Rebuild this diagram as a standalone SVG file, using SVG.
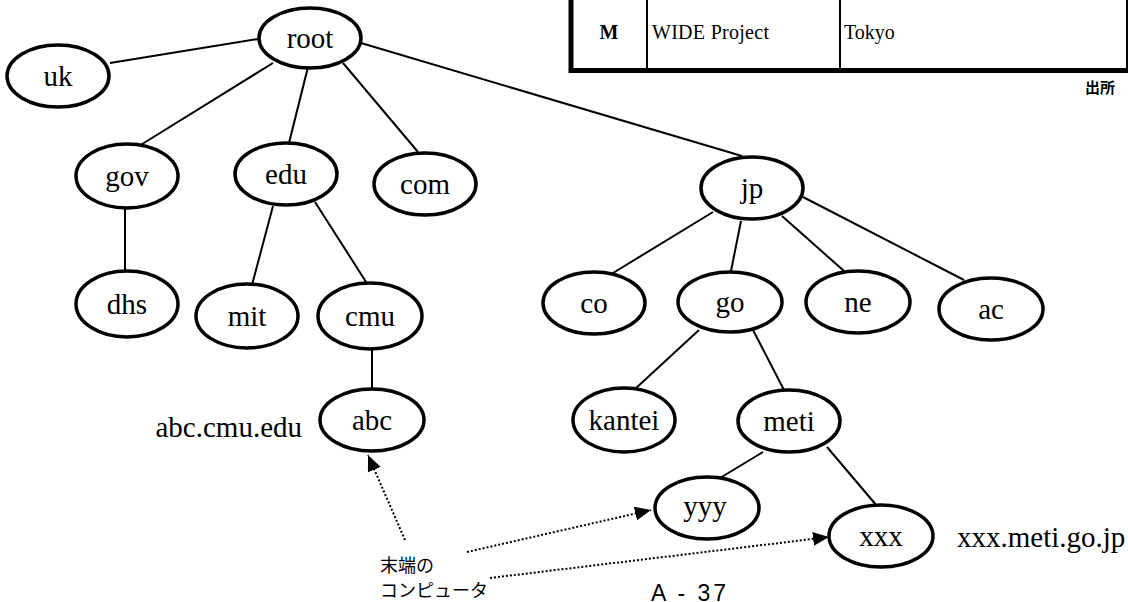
<svg xmlns="http://www.w3.org/2000/svg" width="1128" height="602" viewBox="0 0 1128 602">
  <style>
    .node ellipse { fill: #fff; stroke: #000; stroke-width: 3.5; }
    .node text, .lbl { font-family: "Liberation Serif", "Times New Roman", serif; font-size: 29px; fill: #000; }
    .node text { text-anchor: middle; }
    .edge { stroke: #000; stroke-width: 2; fill: none; }
    .dot { stroke: #000; stroke-width: 2; stroke-dasharray: 2 2; fill: none; }
    .cell { font-family: "Liberation Serif", "Times New Roman", serif; font-size: 20px; fill: #000; }
    .jp { font-family: "Noto Sans CJK JP", sans-serif; font-size: 18px; fill: #000; }
  </style>
  <defs>
    <marker id="arrow" markerUnits="userSpaceOnUse" markerWidth="16" markerHeight="14" refX="16" refY="7" orient="auto">
      <path d="M0,0 L16,7 L0,14 z" fill="#000"/>
    </marker>
  </defs>

  <rect width="1128" height="602" fill="#fff"/>

  <!-- table fragment, upper right -->
  <g id="table">
    <line x1="571" y1="0" x2="571" y2="73" stroke="#000" stroke-width="5"/>
    <line x1="647" y1="0" x2="647" y2="70" stroke="#000" stroke-width="2"/>
    <line x1="840" y1="0" x2="840" y2="70" stroke="#000" stroke-width="2"/>
    <line x1="1127" y1="0" x2="1127" y2="70" stroke="#000" stroke-width="2"/>
    <line x1="569" y1="70.5" x2="1128" y2="70.5" stroke="#000" stroke-width="5"/>
    <text class="cell" x="609" y="39" text-anchor="middle" font-weight="bold" font-size="21">M</text>
    <text class="cell" x="652" y="39" textLength="117">WIDE Project</text>
    <text class="cell" x="844" y="39">Tokyo</text>
    <text x="1085" y="93" font-family="Noto Sans CJK JP, sans-serif" font-size="15" font-weight="bold">出所</text>
  </g>

  <!-- tree connectors -->
  <g id="connectors">
    <line class="edge" x1="258" y1="39" x2="110" y2="63"/>
    <line class="edge" x1="273" y1="63" x2="139" y2="146"/>
    <line class="edge" x1="308" y1="67" x2="289" y2="143"/>
    <line class="edge" x1="343" y1="63" x2="418" y2="152"/>
    <line class="edge" x1="361" y1="43" x2="742" y2="156"/>
    <line class="edge" x1="125" y1="208" x2="125" y2="271"/>
    <line class="edge" x1="273" y1="206" x2="252" y2="285"/>
    <line class="edge" x1="315" y1="202" x2="368" y2="285"/>
    <line class="edge" x1="372" y1="350" x2="372" y2="388"/>
    <line class="edge" x1="713" y1="212" x2="613" y2="273"/>
    <line class="edge" x1="741" y1="221" x2="731" y2="271"/>
    <line class="edge" x1="782" y1="216" x2="844" y2="271"/>
    <line class="edge" x1="803" y1="197" x2="964" y2="280"/>
    <line class="edge" x1="699" y1="330" x2="635" y2="389"/>
    <line class="edge" x1="753" y1="330" x2="784" y2="390"/>
    <line class="edge" x1="763" y1="452" x2="720" y2="478"/>
    <line class="edge" x1="827" y1="447" x2="877" y2="506"/>
    <!-- dotted pointers from the caption -->
    <line class="dot" x1="405" y1="540" x2="368" y2="455" marker-end="url(#arrow)"/>
    <line class="dot" x1="467" y1="552" x2="651" y2="510" marker-end="url(#arrow)"/>
    <line class="dot" x1="490" y1="578" x2="829" y2="537" marker-end="url(#arrow)"/>
  </g>

  <g id="root" class="node"><ellipse cx="310" cy="38" rx="51" ry="30"/><text x="310" y="48">root</text></g>
  <g id="uk" class="node"><ellipse cx="58" cy="76" rx="51" ry="31"/><text x="58" y="86">uk</text></g>
  <g id="gov" class="node"><ellipse cx="127" cy="176" rx="51" ry="32"/><text x="127" y="186">gov</text></g>
  <g id="edu" class="node"><ellipse cx="286" cy="174" rx="51" ry="31"/><text x="286" y="184">edu</text></g>
  <g id="com" class="node"><ellipse cx="425" cy="184" rx="51" ry="31"/><text x="425" y="194">com</text></g>
  <g id="dhs" class="node"><ellipse cx="127" cy="304" rx="51" ry="33"/><text x="127" y="314">dhs</text></g>
  <g id="mit" class="node"><ellipse cx="247" cy="316" rx="51" ry="32"/><text x="247" y="326">mit</text></g>
  <g id="cmu" class="node"><ellipse cx="370" cy="316" rx="52" ry="33"/><text x="370" y="326">cmu</text></g>
  <g id="abc" class="node"><ellipse cx="372" cy="420" rx="52" ry="31"/><text x="372" y="430">abc</text></g>
  <g id="jp" class="node"><ellipse cx="752" cy="188" rx="51" ry="31"/><text x="752" y="198">jp</text></g>
  <g id="co" class="node"><ellipse cx="594" cy="303" rx="51" ry="31"/><text x="594" y="313">co</text></g>
  <g id="go" class="node"><ellipse cx="730" cy="302" rx="52" ry="30"/><text x="730" y="312">go</text></g>
  <g id="ne" class="node"><ellipse cx="858" cy="302" rx="52" ry="31"/><text x="858" y="312">ne</text></g>
  <g id="ac" class="node"><ellipse cx="991" cy="309" rx="52" ry="31"/><text x="991" y="319">ac</text></g>
  <g id="kantei" class="node"><ellipse cx="624" cy="420" rx="51" ry="32"/><text x="624" y="430">kantei</text></g>
  <g id="meti" class="node"><ellipse cx="789" cy="421" rx="51" ry="31"/><text x="789" y="431">meti</text></g>
  <g id="yyy" class="node"><ellipse cx="707" cy="508" rx="52" ry="31"/><text x="705" y="516">yyy</text></g>
  <g id="xxx" class="node"><ellipse cx="881" cy="536" rx="52" ry="31"/><text x="881" y="546">xxx</text></g>

  <!-- full host names -->
  <text class="lbl" x="302" y="437" text-anchor="end">abc.cmu.edu</text>
  <text class="lbl" x="957" y="547">xxx.meti.go.jp</text>

  <!-- caption for the leaf hosts -->
  <text class="jp" x="380" y="572">末端の</text>
  <text class="jp" x="380" y="597">コンピュータ</text>

  <!-- page number -->
  <text x="651" y="601" font-family="Liberation Sans, Arial, sans-serif" font-size="23" textLength="75" lengthAdjust="spacing">A - 37</text>
</svg>
